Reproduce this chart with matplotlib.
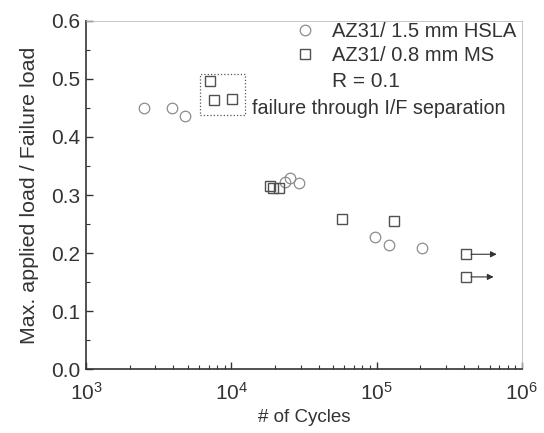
import matplotlib.pyplot as plt
from matplotlib.patches import Rectangle
from matplotlib.ticker import MultipleLocator, LogLocator, NullFormatter

plt.rcParams['font.family'] = ['Liberation Sans', 'DejaVu Sans']

# AZ31 / 1.5 mm HSLA
hsla_cycles = [2520, 3900, 4780, 23500, 25400, 29400, 97800, 122700, 205000]
hsla_load = [0.449, 0.450, 0.436, 0.323, 0.329, 0.320, 0.227, 0.214, 0.209]

# AZ31 / 0.8 mm MS
ms_cycles = [7150, 7580, 10100, 18500, 19400, 21400, 58200, 132000, 414000, 414000]
ms_load = [0.497, 0.463, 0.465, 0.315, 0.312, 0.312, 0.259, 0.255, 0.198, 0.159]

# run-outs (arrows to the right)
runout_cycles = [414000, 414000]
runout_load = [0.198, 0.159]
runout_end = [673000, 640000]

# dotted box round the I/F failures (cycles, load)
box_cycles = [6100, 12400]
box_load = [0.438, 0.509]


def main():
    fig = plt.figure(figsize=(5.44, 4.33), dpi=100)
    ax = fig.add_axes([0.1581, 0.1471, 0.801, 0.8051])

    ax.plot(hsla_cycles, hsla_load, 'o', ms=7.6, mfc='none', mec='#8c8c8c', mew=0.9,
            label='AZ31/ 1.5 mm HSLA')
    ax.plot(ms_cycles, ms_load, 's', ms=7.3, mfc='none', mec='#505050', mew=1.0,
            label='AZ31/ 0.8 mm MS')

    for x, y, xe in zip(runout_cycles, runout_load, runout_end):
        ax.annotate('', xy=(xe, y), xytext=(x * 1.08, y),
                    arrowprops=dict(arrowstyle='-|>', color='#333333', lw=0.8,
                                    mutation_scale=9, shrinkA=0, shrinkB=0))

    ax.add_patch(Rectangle((box_cycles[0], box_load[0]), box_cycles[1] - box_cycles[0],
                           box_load[1] - box_load[0], fill=False, ls=':', lw=0.9,
                           ec='#555555'))

    ax.set_xscale('log')
    ax.set_xlim(1e3, 1e6)
    ax.set_ylim(0, 0.6)
    ax.yaxis.set_major_locator(MultipleLocator(0.1))
    ax.yaxis.set_minor_locator(MultipleLocator(0.05))
    ax.xaxis.set_major_locator(LogLocator(base=10))
    ax.xaxis.set_minor_locator(LogLocator(base=10, subs=range(2, 10)))
    ax.xaxis.set_minor_formatter(NullFormatter())
    ax.yaxis.set_major_formatter(plt.FuncFormatter(lambda v, p: f'{v:.1f}'))

    ax.tick_params(which='both', direction='in', top=False, right=False,
                   labelsize=15, colors='#333333')
    ax.tick_params(which='major', length=5, width=1)
    ax.tick_params(which='minor', length=2.8, width=0.8)
    ax.tick_params(axis='y', pad=4)
    ax.tick_params(axis='x', pad=9)
    for side in ['left', 'bottom']:
        ax.spines[side].set_linewidth(1.2)
        ax.spines[side].set_color('#333333')
    for side in ['top', 'right']:
        ax.spines[side].set_linewidth(0.6)
        ax.spines[side].set_color('#bbbbbb')

    ax.set_xlabel('# of Cycles', fontsize=13.5, color='#333333', labelpad=4)
    ax.set_ylabel('Max. applied load / Failure load', fontsize=15.4, color='#333333',
                  labelpad=9)

    ax.legend(loc='upper left', bbox_to_anchor=(0.48, 0.995), frameon=False,
              fontsize=14.5, borderpad=0, borderaxespad=0, handlelength=1.0,
              handletextpad=0.83, labelspacing=0.23, labelcolor='#333333')
    ax.text(0.564, 0.825, 'R = 0.1', transform=ax.transAxes, fontsize=15,
            color='#333333', va='center')
    ax.text(0.380, 0.749, 'failure through I/F separation', transform=ax.transAxes,
            fontsize=14.2, color='#333333', va='center')

    fig.savefig('out.png', dpi=100)


if __name__ == '__main__':
    main()
